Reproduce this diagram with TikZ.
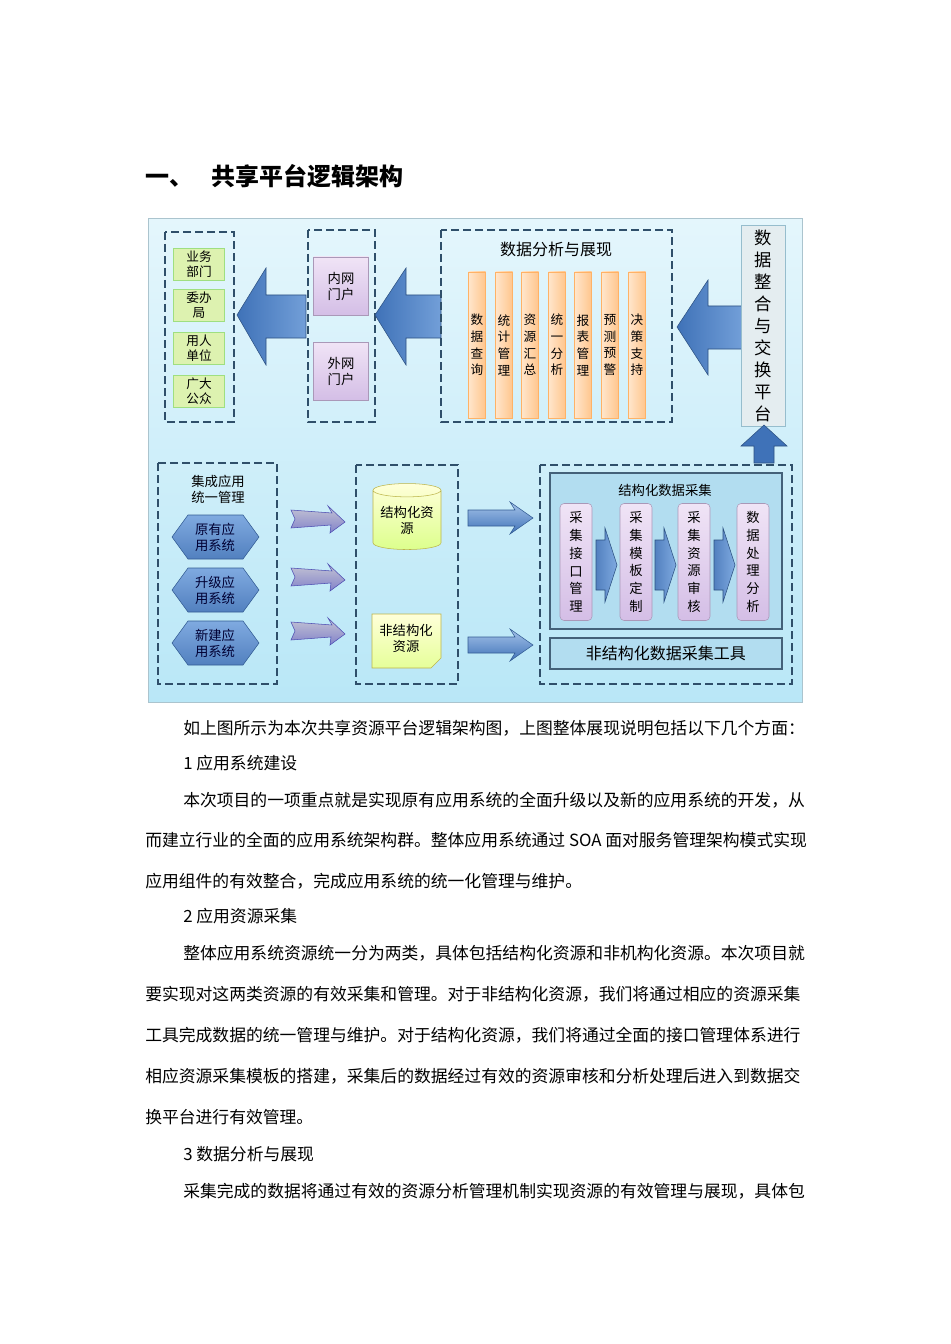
\documentclass[tikz,border=0pt]{standalone}
\usepackage{fontspec}
\setmainfont{Noto Sans CJK SC}
\usetikzlibrary{shapes.geometric,shapes.misc,shapes.symbols}
\definecolor{bgA}{HTML}{E4F6FC}
\definecolor{bgB}{HTML}{B9E7F7}
\definecolor{dash}{HTML}{2F4F6A}
\definecolor{arr}{HTML}{3F72B8}
\definecolor{arrL}{HTML}{7FAAE0}
\definecolor{pA}{HTML}{F0E4F6}
\definecolor{pB}{HTML}{D4BEE6}
\definecolor{gF}{HTML}{DDF2B0}
\definecolor{inF}{HTML}{B2DDF0}
\tikzset{
 x=0.75pt,y=-0.75pt,
 dbox/.style={draw=dash,dashed,dash pattern=on 6pt off 3pt,line width=1.3pt},
 green/.style={draw=green!50!olive!50,fill=gF,line width=0.5pt,font=\fontsize{9.5}{11}\selectfont,align=center,inner sep=1pt},
 purp/.style={draw=pB!80!black,top color=pA,bottom color=pB,font=\fontsize{10}{12}\selectfont,align=center},
 orng/.style={draw=orange!60,left color=orange!20,right color=orange!45,font=\fontsize{9.5}{12.5}\selectfont,align=center,inner sep=0pt},
 bigarr/.style={left color=arr,right color=arrL!80!arr,draw=arr!70!black,line width=0.4pt},
 body/.style={anchor=west,font=\fontsize{12.6}{14}\selectfont,inner sep=0pt},
 lab/.style={font=\fontsize{10}{12}\selectfont,align=center,inner sep=0pt},
}
\begin{document}
\begin{tikzpicture}
\useasboundingbox[fill=white] (0,0) rectangle (950,1344);
\node[anchor=west,font=\fontsize{18}{20}\selectfont\bfseries,inner sep=0pt] (title) at (145,176) {一、\hspace{0.75em}共享平台逻辑架构};
% background
\node[draw=cyan!30!gray!60,top color=bgA,bottom color=bgB,minimum width=654*0.75pt,minimum height=484*0.75pt,anchor=north west,inner sep=0pt] (bg) at (148,218) {};
% top row
\draw[dbox] (165,232) rectangle (234,422);
\foreach \y/\t [count=\i] in {264/业务\\部门,305/委办\\局,348/用人\\单位,391/广大\\公众}
  \node[green,minimum width=51*0.75pt,minimum height=32*0.75pt] (g\i) at (199,\y) {\t};
\draw[bigarr] (237,315) -- (266,268) -- (266,295) -- (306,295) -- (306,338) -- (266,338) -- (266,365) -- cycle;
\draw[dbox] (308,230) rectangle (375,422);
\node[purp,minimum width=55*0.75pt,minimum height=58*0.75pt] (nw) at (341,286) {内网\\门户};
\node[purp,minimum width=55*0.75pt,minimum height=58*0.75pt] (ww) at (341,371) {外网\\门户};
\draw[bigarr] (375,315) -- (406,268) -- (406,295) -- (441,295) -- (441,338) -- (406,338) -- (406,365) -- cycle;
\draw[dbox] (441,230) rectangle (672,422);
\node[font=\fontsize{12}{14}\selectfont] (da) at (556,249) {数据分析与展现};
\foreach \x/\t [count=\i] in {477/数\\据\\查\\询,504/统\\计\\管\\理,530/资\\源\\汇\\总,557/统\\一\\分\\析,583/报\\表\\管\\理,610/预\\测\\预\\警,637/决\\策\\支\\持}
  \node[orng,minimum width=17*0.75pt,minimum height=146*0.75pt] (o\i) at (\x,345) {\t};
\draw[bigarr] (677,327) -- (708,280) -- (708,306) -- (742,306) -- (742,349) -- (708,349) -- (708,375) -- cycle;
\node[draw=cyan!40!gray!70,fill=cyan!30!gray!18,minimum width=44*0.75pt,minimum height=192*0.75pt,font=\fontsize{13}{16.5}\selectfont,align=center] (ex) at (763,326) {数\\据\\整\\合\\与\\交\\换\\平\\台};
\draw[bigarr,top color=arr,bottom color=arr] (764,425) -- (787,446) -- (774,446) -- (774,463) -- (754,463) -- (754,446) -- (741,446) -- cycle;
% bottom row
\draw[dbox] (158,463) rectangle (277,684);
\node[lab] (jc) at (218,489) {集成应用\\统一管理};
\foreach \y/\t [count=\i] in {537/原有应\\用系统,590/升级应\\用系统,643/新建应\\用系统}{
  \draw[draw=arr!80!black,top color=arrL,bottom color=arr!90,line width=0.4pt] (172,\y) -- (188,\y-22) -- (243,\y-22) -- (259,\y) -- (243,\y+22) -- (188,\y+22) -- cycle;
  \node[lab,text=black!80!blue] (h\i) at (215,\y) {\t};
}
\foreach \y in {519,577,631}
  \draw[draw=gray!60!blue,top color=blue!15!gray!40,bottom color=blue!40!gray!70,line width=0.4pt] (291,\y-9) -- (332,\y-6) -- (328,\y-13) -- (345,\y+3) -- (330,\y+14) -- (331,\y+6) -- (291,\y+9) -- (295,\y) -- cycle;
\draw[dbox] (356,465) rectangle (458,684);
\node[cylinder,shape border rotate=90,aspect=0.25,draw=olive!60,top color=yellow!15,bottom color=green!30!yellow!45,minimum width=68*0.75pt,minimum height=66*0.75pt,lab] (jg) at (407,520) {结构化资\\源};
\draw[draw=olive!60,top color=yellow!15,bottom color=green!25!yellow!40] (372,614) -- (441,614) -- (441,658) -- (431,668) -- (372,668) -- cycle;
\node[lab] (fjg) at (406,638) {非结构化\\资源};
\foreach \y in {518,645}
  \draw[draw=arr!80!black,top color=arrL!70,bottom color=arr,line width=0.4pt] (468,\y-8) -- (515,\y-8) -- (510,\y-16) -- (533,\y) -- (510,\y+16) -- (515,\y+8) -- (468,\y+8) -- cycle;
\draw[dbox] (540,465) rectangle (792,684);
\node[draw=dash!90,line width=1.3pt,fill=inF,minimum width=232*0.75pt,minimum height=156*0.75pt,anchor=north west] (jgc) at (549,472) {};
\node[lab] (jgt) at (665,490) {结构化数据采集};
\foreach \x/\t [count=\i] in {576/采\\集\\接\\口\\管\\理,636/采\\集\\模\\板\\定\\制,694/采\\集\\资\\源\\审\\核,753/数\\据\\处\\理\\分\\析}
  \node[purp,rounded corners=3pt,minimum width=32*0.75pt,minimum height=117*0.75pt,font=\fontsize{10}{13.3}\selectfont] (p\i) at (\x,562) {\t};
\foreach \x in {596,655,714}
  \draw[draw=arr!70!black,left color=arr!90,right color=arrL,line width=0.4pt] (\x,540) -- (\x+9,540) -- (\x+9,528) -- (\x+21,565) -- (\x+9,602) -- (\x+9,590) -- (\x,590) -- cycle;
\node[draw=dash!90,line width=1.3pt,fill=inF,minimum width=232*0.75pt,minimum height=31*0.75pt,anchor=north west,font=\fontsize{12}{14}\selectfont] (fj) at (549,637) {非结构化数据采集工具};
% body text
\node[body] (l1) at (183,728) {如上图所示为本次共享资源平台逻辑架构图，上图整体展现说明包括以下几个方面：};
\node[body] (l2) at (183,763) {1 应用系统建设};
\node[body] (l3) at (183,800) {本次项目的一项重点就是实现原有应用系统的全面升级以及新的应用系统的开发，从};
\node[body] (l4) at (145,840) {而建立行业的全面的应用系统架构群。整体应用系统通过 SOA 面对服务管理架构模式实现};
\node[body] (l5) at (145,881) {应用组件的有效整合，完成应用系统的统一化管理与维护。};
\node[body] (l6) at (183,916) {2 应用资源采集};
\node[body] (l7) at (183,953) {整体应用系统资源统一分为两类，具体包括结构化资源和非机构化资源。本次项目就};
\node[body] (l8) at (145,994) {要实现对这两类资源的有效采集和管理。对于非结构化资源，我们将通过相应的资源采集};
\node[body] (l9) at (145,1035) {工具完成数据的统一管理与维护。对于结构化资源，我们将通过全面的接口管理体系进行};
\node[body] (l10) at (145,1076) {相应资源采集模板的搭建，采集后的数据经过有效的资源审核和分析处理后进入到数据交};
\node[body] (l11) at (145,1117) {换平台进行有效管理。};
\node[body] (l12) at (183,1154) {3 数据分析与展现};
\node[body] (l13) at (183,1191) {采集完成的数据将通过有效的资源分析管理机制实现资源的有效管理与展现，具体包};
\end{tikzpicture}
\end{document}
